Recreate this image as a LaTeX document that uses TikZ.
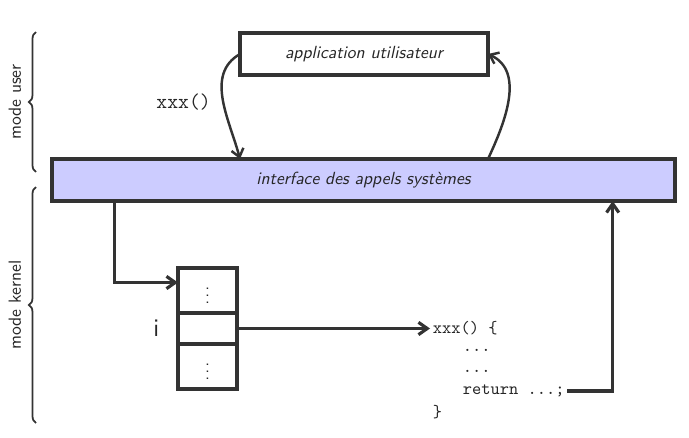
\documentclass[tikz,border=0pt]{standalone}
\usepackage{tikz}
\usetikzlibrary{calc}
\usetikzlibrary{arrows.meta, positioning, decorations.pathreplacing}

\begin{document}
\begin{tikzpicture}[
    every node/.style={font=\sffamily, text=black!85},
    box/.style={rectangle, draw=black!80, line width=2pt, outer sep=0pt, minimum height=0.84cm, font=\sffamily\itshape},
    cell/.style={rectangle, draw=black!80, line width=2pt, outer sep=0pt, minimum width=1.18cm},
    code/.style={font=\ttfamily, anchor=west, inner sep=1.5pt},
    arrow/.style={-{Straight Barb[length=5pt, width=7pt]}, line width=1.8pt, draw=black!80},
    curve/.style={-{Straight Barb[length=4.5pt, width=7pt]}, line width=1.4pt, draw=black!80},
    brace/.style={decorate, decoration={brace, amplitude=4pt}, draw=black!80, line width=1pt}
]
\useasboundingbox (0,0) rectangle (13.78,8.74);

% Nodes
\node (app) [box, minimum width=4.96cm] at (7.28,7.66) {application utilisateur};
\node (iface) [box, fill=blue!20, minimum width=12.46cm] at (7.27,5.14) {interface des appels systèmes};

% Table of system calls
\node (mid) [cell, minimum height=0.62cm] at (4.15,2.17) {};
\node (top) [cell, minimum height=0.9cm, above=0pt of mid] {$\vdots$};
\node (bot) [cell, minimum height=0.9cm, below=0pt of mid] {$\vdots$};
\node (idx) [left=0.25cm of mid, font=\sffamily\Large] {i};

% Kernel function
\node (callhead) [code] at (8.6,2.17) {xxx() \{};
\node (dotsA) [code] at (9.2,1.74) {...};
\node (dotsB) [code] at (9.2,1.32) {...};
\node (ret) [code] at (9.2,0.92) {return ...;};
\node (close) [code] at (8.6,0.50) {\}};

% Modes
\draw[brace] (0.72,5.3) -- (0.72,8.1) node[midway, anchor=south, rotate=90, inner sep=8pt] (userMode) {mode user};
\draw[brace] (0.72,0.28) -- (0.72,5.0) node[midway, anchor=south, rotate=90, inner sep=8pt] (kernelMode) {mode kernel};

% Arrows
\draw[curve] (app.west) to[out=210, in=105] node[pos=0.52, left=3pt, font=\ttfamily\large] (call) {xxx()} (app.west |- iface.north);
\draw[curve] (app.east |- iface.north) to[out=65, in=-25] (app.east);
\draw[arrow] ($(iface.south west)!0.1!(iface.south east)$) |- ([yshift=0.16cm]top.west);
\draw[arrow] (mid.east) -- (callhead.west);
\draw[arrow] (ret.east) -| ($(iface.south west)!0.9!(iface.south east)$);

\end{tikzpicture}
\end{document}
